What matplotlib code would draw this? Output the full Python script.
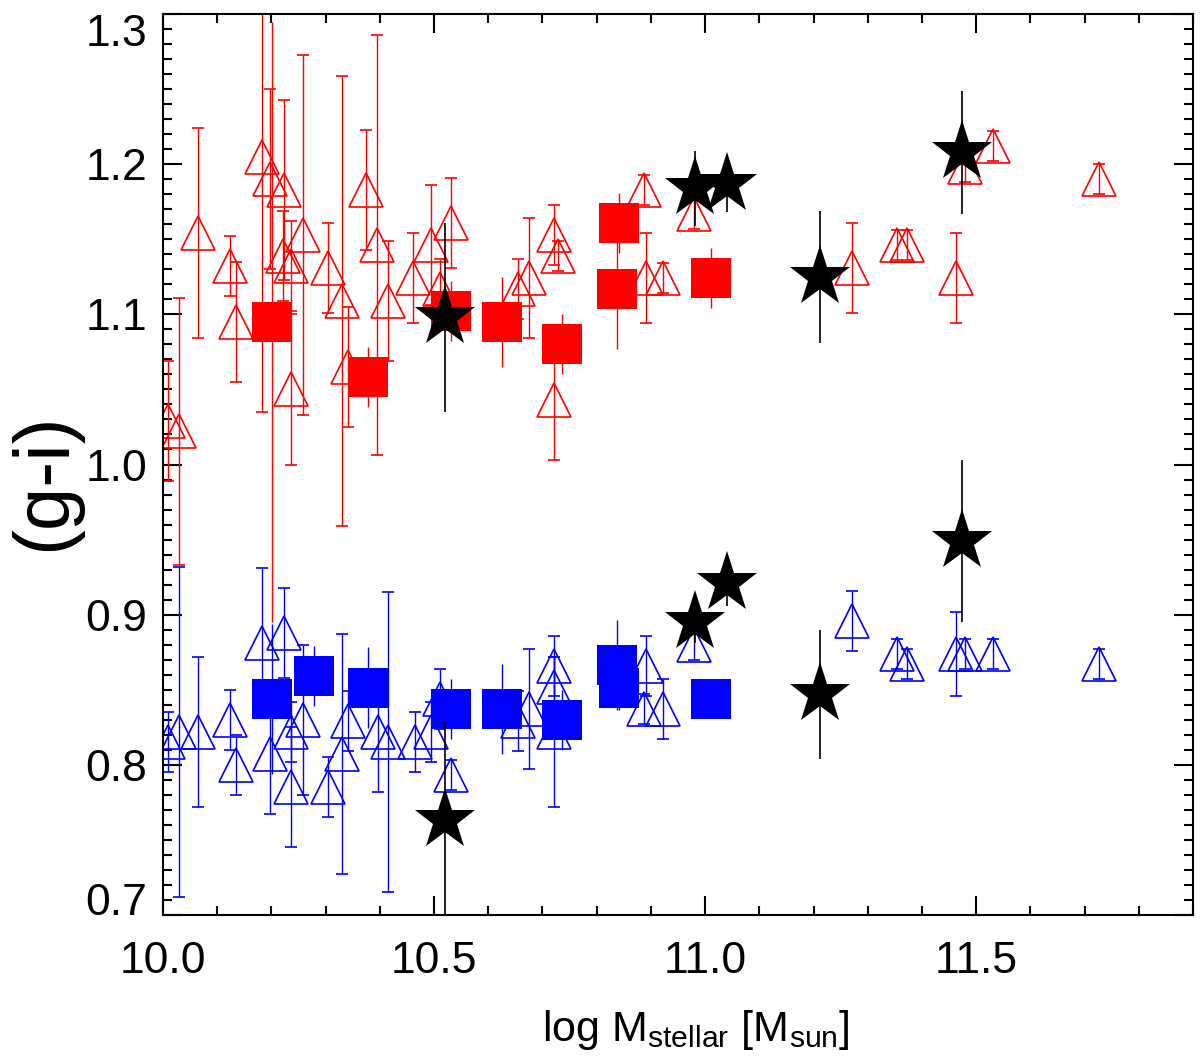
import matplotlib
matplotlib.use("Agg")
from matplotlib import pyplot as plt
from matplotlib.ticker import MultipleLocator, FormatStrFormatter

plt.rcParams['font.family'] = ['Liberation Sans', 'DejaVu Sans']
plt.rcParams['mathtext.fontset'] = 'custom'
plt.rcParams['mathtext.rm'] = 'Liberation Sans'

# red sample: open triangles (individual), filled squares (binned), stars
red_tri_x = [10.010, 10.030, 10.064, 10.124, 10.135, 10.183, 10.197, 10.224, 10.221, 10.236,
             10.259, 10.236, 10.305, 10.330, 10.342, 10.375, 10.394, 10.415, 10.462, 10.494,
             10.511, 10.531, 10.654, 10.676, 10.721, 10.728, 10.721, 10.888, 10.891, 10.923,
             10.979, 11.271, 11.354, 11.373, 11.463, 11.480, 11.531, 11.726]
red_tri_y = [1.029, 1.022, 1.154, 1.132, 1.095, 1.205, 1.190, 1.183, 1.139, 1.132,
             1.153, 1.050, 1.131, 1.109, 1.065, 1.183, 1.146, 1.109, 1.124, 1.146,
             1.117, 1.161, 1.117, 1.124, 1.153, 1.139, 1.043, 1.183, 1.124, 1.124,
             1.167, 1.131, 1.146, 1.146, 1.124, 1.198, 1.212, 1.190]
red_tri_e = [0.040, 0.089, 0.070, 0.020, 0.040, 0.170, 0.060, 0.060, 0.030, 0.030,
             0.120, 0.050, 0.030, 0.150, 0.040, 0.040, 0.140, 0.040, 0.030, 0.040,
             0.020, 0.030, 0.020, 0.040, 0.020, 0.010, 0.040, 0.010, 0.030, 0.010,
             0.010, 0.030, 0.010, 0.010, 0.030, 0.010, 0.010, 0.010]

red_sq_x = [10.202, 10.378, 10.531, 10.626, 10.736, 10.842, 10.838, 11.011]
red_sq_y = [1.095, 1.058, 1.102, 1.095, 1.080, 1.161, 1.117, 1.124]
red_sq_e = [0.200, 0.020, 0.020, 0.030, 0.020, 0.020, 0.040, 0.020]

red_star_x = [10.520, 10.982, 11.040, 11.212, 11.474]
red_star_y = [1.098, 1.184, 1.187, 1.125, 1.208]
red_star_e = [0.063, 0.025, 0.019, 0.044, 0.041]

# blue sample
blue_tri_x = [10.010, 10.030, 10.064, 10.124, 10.135, 10.183, 10.197, 10.224, 10.237, 10.236,
              10.259, 10.330, 10.342, 10.305, 10.396, 10.415, 10.464, 10.494, 10.511, 10.531,
              10.654, 10.676, 10.721, 10.721, 10.721, 10.891, 10.888, 10.923, 10.979, 11.271,
              11.354, 11.373, 11.463, 11.480, 11.531, 11.726]
blue_tri_y = [0.815, 0.822, 0.822, 0.830, 0.800, 0.881, 0.807, 0.888, 0.822, 0.785,
              0.830, 0.807, 0.829, 0.785, 0.822, 0.815, 0.815, 0.822, 0.844, 0.793,
              0.829, 0.837, 0.866, 0.852, 0.822, 0.866, 0.837, 0.837, 0.880, 0.896,
              0.874, 0.867, 0.874, 0.874, 0.874, 0.867]
blue_tri_e = [0.020, 0.110, 0.050, 0.020, 0.020, 0.050, 0.040, 0.030, 0.020, 0.040,
              0.050, 0.080, 0.020, 0.020, 0.040, 0.100, 0.020, 0.020, 0.020, 0.010,
              0.020, 0.040, 0.020, 0.020, 0.050, 0.020, 0.010, 0.020, 0.010, 0.020,
              0.010, 0.010, 0.028, 0.010, 0.010, 0.010]

blue_sq_x = [10.202, 10.278, 10.378, 10.531, 10.626, 10.736, 10.838, 10.842, 11.011]
blue_sq_y = [0.844, 0.859, 0.8515, 0.837, 0.837, 0.830, 0.8665, 0.8515, 0.844]
blue_sq_e = [0.050, 0.020, 0.027, 0.020, 0.030, 0.020, 0.030, 0.015, 0.0]

blue_star_x = [10.520, 10.982, 11.040, 11.212, 11.474]
blue_star_y = [0.763, 0.895, 0.921, 0.847, 0.949]
blue_star_e = [0.066, 0.014, 0.015, 0.043, 0.054]

fig = plt.figure(figsize=(12, 10.61), dpi=100)
ax = fig.add_axes([0.1358, 0.1376, 0.8584, 0.8492])

for xs, ys, es, c in [(red_tri_x, red_tri_y, red_tri_e, 'red'),
                      (blue_tri_x, blue_tri_y, blue_tri_e, 'blue')]:
    ax.errorbar(xs, ys, yerr=es, fmt='^', ms=25, mfc='none', mec=c, mew=1.2,
                ecolor=c, elinewidth=1.0, capsize=4.5, capthick=1.0, zorder=2)

for xs, ys, es, c in [(red_sq_x, red_sq_y, red_sq_e, 'red'),
                      (blue_sq_x, blue_sq_y, blue_sq_e, 'blue')]:
    ax.errorbar(xs, ys, yerr=es, fmt='s', ms=28.8, mfc=c, mec=c, mew=0,
                ecolor=c, elinewidth=1.0, capsize=4.5, capthick=1.0, zorder=3)

for xs, ys, es in [(red_star_x, red_star_y, red_star_e),
                   (blue_star_x, blue_star_y, blue_star_e)]:
    ax.errorbar(xs, ys, yerr=es, fmt='*', ms=46, mfc='black', mec='black', mew=0,
                ecolor='black', elinewidth=1.2, capsize=4.5, capthick=1.2, zorder=4)

ax.set_xlim(10.0, 11.9)
ax.set_ylim(0.7, 1.3)
ax.xaxis.set_major_locator(MultipleLocator(0.5))
ax.xaxis.set_minor_locator(MultipleLocator(0.1))
ax.yaxis.set_major_locator(MultipleLocator(0.1))
ax.yaxis.set_minor_locator(MultipleLocator(0.01))
ax.xaxis.set_major_formatter(FormatStrFormatter('%.1f'))
ax.yaxis.set_major_formatter(FormatStrFormatter('%.1f'))

ax.tick_params(which='both', direction='in', top=True, right=True, width=1.5)
ax.tick_params(which='major', length=13.7, labelsize=32)
ax.tick_params(which='minor', length=6.8)
ax.tick_params(axis='x', which='major', pad=19)
ax.tick_params(axis='y', which='major', pad=11.5)
for s in ax.spines.values():
    s.set_linewidth(1.5)

fig.text(696 / 1200, 1 - 1030 / 1061, r'log M$_{\rm stellar}$ [M$_{\rm sun}$]',
         fontsize=31, ha='center', va='center')
fig.text(45 / 1200, 1 - 482 / 1061, '(g-i)', fontsize=56, rotation=90,
         ha='center', va='center')

# end labels sit inside the axis range, like the original
fig.canvas.draw()
for lab in ax.get_yticklabels():
    if lab.get_text() == '0.7':
        lab.set_va('baseline')
    elif lab.get_text() == '1.3':
        lab.set_va('top')

fig.savefig('out.png', dpi=100)
